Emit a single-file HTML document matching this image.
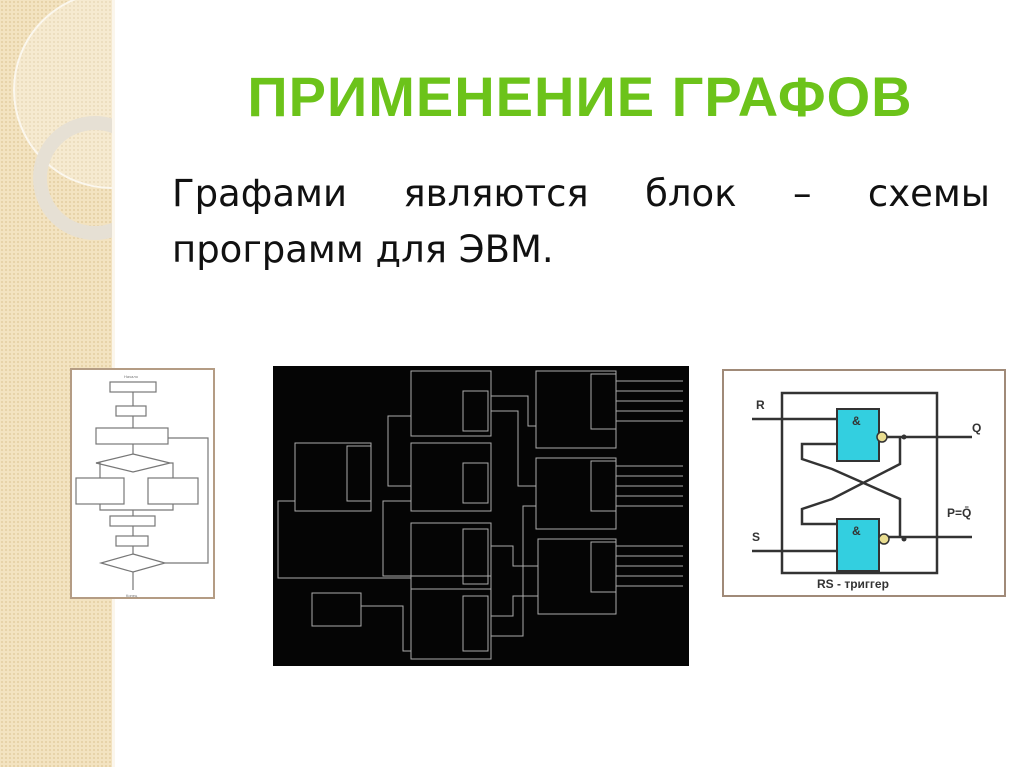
<!DOCTYPE html>
<html><head><meta charset="utf-8"><style>
html,body{margin:0;padding:0}
body{width:1024px;height:767px;position:relative;overflow:hidden;background:#fff;font-family:"Liberation Sans","DejaVu Sans",sans-serif}
.side{position:absolute;left:0;top:0;width:112px;height:767px;background-color:#f3e3c1;
background-image:radial-gradient(circle,#e6d2a8 1px,transparent 1.3px);background-size:4px 4px;overflow:hidden}
.div{position:absolute;left:112px;top:0;width:3px;height:767px;background:#fbf6ec}
.title{position:absolute;left:150px;width:860px;top:64px;text-align:center;font-size:56px;font-weight:bold;letter-spacing:1px;white-space:nowrap;
color:#6cc31a;font-family:"Liberation Sans",sans-serif}
.txt{position:absolute;left:172px;width:818px;font-size:37px;color:#111;font-family:"DejaVu Sans","Liberation Sans",sans-serif}
</style></head><body>
<div class="side">
<svg width="112" height="767" style="position:absolute;left:0;top:0">
<circle cx="112" cy="90" r="98" fill="rgba(255,255,255,0.25)" stroke="#fbf7ee" stroke-width="2"/>
<circle cx="95" cy="178" r="55" fill="none" stroke="#e6e0d4" stroke-width="14"/>
</svg>
</div>
<div class="div"></div>
<div class="title">ПРИМЕНЕНИЕ ГРАФОВ</div>
<div class="txt" style="top:172px;display:flex;justify-content:space-between"><span>Графами</span><span>являются</span><span>блок</span><span>–</span><span>схемы</span></div>
<div class="txt" style="top:228px">программ для ЭВМ.</div>

<svg style="position:absolute;left:70px;top:368px" width="145" height="231">
<rect x="1" y="1" width="143" height="229" fill="#fff" stroke="#b49c84" stroke-width="2"/>
<g fill="none" stroke="#777" stroke-width="1.2">
<rect x="40" y="14" width="46" height="10"/><rect x="46" y="38" width="30" height="10"/>
<rect x="26" y="60" width="72" height="16"/>
<polygon points="63,86 100,95 63,104 26,95"/>
<rect x="6" y="110" width="48" height="26"/><rect x="78" y="110" width="50" height="26"/>
<rect x="40" y="148" width="45" height="10"/><rect x="46" y="168" width="32" height="10"/>
<polygon points="63,186 95,195 63,204 31,195"/>
<path d="M63,24V38M63,48V60M63,76V86M26,95H30V110M100,95H103V110M30,136V142H103V136M63,142V148M63,158V168M63,178V186M63,204V222M95,195H138V70H98"/>
</g>
<g font-size="4" fill="#777"><text x="54" y="10">Начало</text><text x="56" y="229">Конец</text></g>
</svg>

<svg style="position:absolute;left:273px;top:366px" width="416" height="300">
<rect width="416" height="300" fill="#050505"/>
<g fill="none" stroke="#aaa" stroke-width="1">
<rect x="138" y="5" width="80" height="65"/><rect x="138" y="77" width="80" height="68"/>
<rect x="138" y="157" width="80" height="136"/><line x1="138" y1="223" x2="218" y2="223"/>
<rect x="22" y="77" width="76" height="68"/><rect x="39" y="227" width="49" height="33"/>
<rect x="263" y="5" width="80" height="77"/><rect x="263" y="92" width="80" height="71"/><rect x="265" y="173" width="78" height="75"/>
<rect x="318" y="8" width="25" height="55"/><rect x="318" y="95" width="25" height="50"/><rect x="318" y="176" width="25" height="50"/>
<rect x="190" y="25" width="25" height="40"/><rect x="190" y="97" width="25" height="40"/><rect x="190" y="163" width="25" height="55"/><rect x="190" y="230" width="25" height="55"/>
<rect x="74" y="80" width="24" height="55"/>
<path d="M218,30H255V60H263M218,45H245V120H263M218,180H240V200H265M218,250H240V230H265M218,270H250V140H263M138,50H115V120H138M138,135H110V210H218V160M22,135H5V212H138M88,240H130V285H138M343,15H410M343,25H410M343,35H410M343,45H410M343,55H410M343,100H410M343,110H410M343,120H410M343,130H410M343,140H410M343,180H410M343,190H410M343,200H410M343,210H410M343,220H410"/>
</g>
</svg>

<svg style="position:absolute;left:722px;top:369px" width="284" height="228">
<rect x="1" y="1" width="282" height="226" fill="#fff" stroke="#a08a78" stroke-width="2"/>
<g fill="none" stroke="#333" stroke-width="2.5">
<rect x="60" y="24" width="155" height="180"/>
<path d="M30,50H115M30,182H115M157,68H250M178,68V95L110,130L80,140V155H115M178,168V130L110,100L80,90V75H115M166,168H250"/>
</g>
<rect x="115" y="40" width="42" height="52" fill="#33cfe0" stroke="#333" stroke-width="2"/>
<rect x="115" y="150" width="42" height="52" fill="#33cfe0" stroke="#333" stroke-width="2"/>
<circle cx="160" cy="68" r="5" fill="#e9dd90" stroke="#333" stroke-width="1.5"/>
<circle cx="162" cy="170" r="5" fill="#e9dd90" stroke="#333" stroke-width="1.5"/>
<circle cx="182" cy="68" r="2.5" fill="#333"/><circle cx="182" cy="170" r="2.5" fill="#333"/>
<g font-size="12" font-weight="bold" fill="#333">
<text x="34" y="40">R</text><text x="30" y="172">S</text><text x="250" y="63">Q</text><text x="225" y="148">P=Q̄</text>
<text x="130" y="56">&amp;</text><text x="130" y="166">&amp;</text><text x="95" y="219">RS - триггер</text></g>
</svg>
</body></html>
